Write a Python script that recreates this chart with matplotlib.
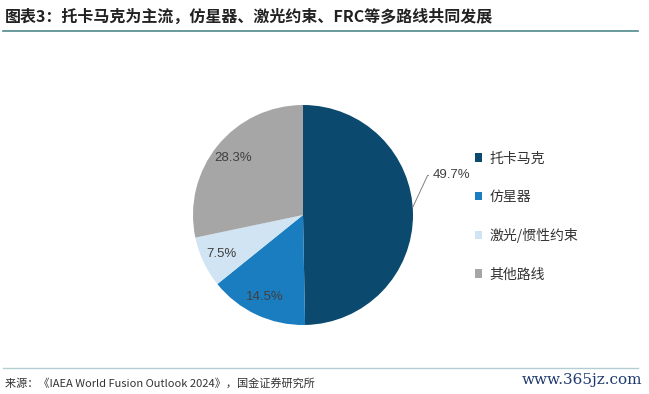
import matplotlib.pyplot as plt
from matplotlib.patches import Patch
import numpy as np

plt.rcParams['font.family'] = ['Noto Sans CJK SC', 'DejaVu Sans']

categories = ['托卡马克', '仿星器', '激光/惯性约束', '其他路线']
shares = [49.7, 14.5, 7.5, 28.3]
colors = ['#0B4A6E', '#1A7DBF', '#D0E4F3', '#A6A6A6']

title = '图表3：托卡马克为主流，仿星器、激光约束、FRC等多路线共同发展'
source = '来源：《IAEA World Fusion Outlook 2024》，国金证券研究所'

fig = plt.figure(figsize=(6.49, 3.94), dpi=100)

ax = fig.add_axes([193 / 649, 69 / 394, 220 / 649, 220 / 394])
wedges, texts, autotexts = ax.pie(
    shares, colors=colors, startangle=90, counterclock=False,
    autopct='%.1f%%', pctdistance=0.82,
    textprops=dict(family='Liberation Sans', fontsize=9.5, color='#404040'))
ax.set_xlim(-1, 1)
ax.set_ylim(-1, 1)
ax.set_aspect('equal')

# largest slice label sits outside with a leader line
autotexts[0].set_visible(False)
ang = np.radians(4)
ax.annotate(autotexts[0].get_text(), xy=(np.cos(ang), np.sin(ang)),
            xytext=(1.18, 0.36), ha='left', va='center',
            fontsize=9.5, family='Liberation Sans', color='#404040',
            annotation_clip=False,
            arrowprops=dict(arrowstyle='-', color='#808080', lw=0.7,
                            shrinkA=1, shrinkB=0,
                            connectionstyle='angle,angleA=180,angleB=65,rad=0'))

handles = [Patch(facecolor=c, edgecolor='none') for c in colors]
fig.legend(handles, categories, loc='upper left',
           bbox_to_anchor=(462 / 649, 1 - 139 / 394), frameon=False,
           fontsize=10, labelcolor='#333333', labelspacing=1.75,
           handlelength=0.55, handleheight=0.55, handletextpad=0.5)

fig.text(5 / 649, 1 - 17 / 394, title, fontsize=11.5, fontweight='bold',
         color='#222222', ha='left', va='center')
fig.add_artist(plt.Line2D([3 / 649, 638 / 649], [1 - 31 / 394, 1 - 31 / 394],
                          color='#4F8A8B', lw=1.2))
fig.add_artist(plt.Line2D([3 / 649, 638 / 649], [1 - 368 / 394, 1 - 368 / 394],
                          color='#B4CCD3', lw=1.0))
fig.text(5 / 649, 1 - 383 / 394, source, fontsize=8, color='#333333',
         ha='left', va='center')
fig.text(642 / 649, 1 - 380 / 394, 'www.365jz.com', fontsize=11,
         family='DejaVu Serif', color='#1E3A6E', ha='right', va='center')

fig.savefig('out.png', dpi=100)
